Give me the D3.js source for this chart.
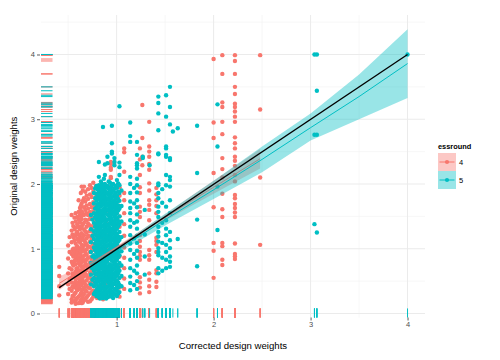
<!DOCTYPE html>
<html><head><meta charset="utf-8">
<script src="https://cdn.jsdelivr.net/npm/d3@7"></script>
<style>body{margin:0;background:#fff}svg{display:block}</style>
</head><body>
<svg id="chart" width="500" height="360"></svg>
<script>
// ---------- data ----------
const rounds = ["4", "5"];
const roundColors = ["#F8766D", "#00BFC4"];
const xTicks = [1, 2, 3, 4];
const yTicks = [0, 1, 2, 3, 4];
const xMinor = [0.5, 1.5, 2.5, 3.5];
const yMinor = [0.5, 1.5, 2.5, 3.5, 4.5];

// round 4: [corrected weight, [original weights...]]
const round4Columns = [
  [0.408, [0.28, 0.42, 0.58, 0.72]],
  [0.50, [0.30, 0.45, 0.62, 0.85, 1.05]],
  [0.515, [0.38, 0.52, 0.70, 0.95, 1.18]],
  [0.536, [0.17, 0.22, 0.35, 0.48, 0.55, 0.68, 0.80, 0.92, 1.10, 1.28, 1.52]],
  [0.545, [0.27, 0.42, 0.61, 0.77, 0.98, 1.22, 1.40]],
  [0.553, [0.26, 0.40, 0.58, 0.74, 0.88, 1.00, 1.18, 1.35]],
  [0.565, [0.19, 0.30, 0.47, 0.62, 0.81, 0.93, 1.13, 1.30, 1.48]],
  [0.577, [0.15, 0.20, 0.32, 0.44, 0.52, 0.64, 0.76, 0.86, 0.97, 1.08, 1.20, 1.42, 1.55]],
  [0.585, [0.23, 0.39, 0.56, 0.69, 0.90, 1.02, 1.24, 1.33]],
  [0.594, [0.24, 0.36, 0.47, 0.60, 0.70, 0.82, 0.94, 1.04, 1.15, 1.26, 1.38, 1.49]],
  [0.608, [0.16, 0.26, 0.42, 0.54, 0.66, 0.78, 0.87, 0.99, 1.12, 1.22, 1.34, 1.45, 1.57, 1.75]],
  [0.622, [0.18, 0.28, 0.38, 0.50, 0.58, 0.66, 0.74, 0.83, 0.92, 1.01, 1.10, 1.19, 1.30, 1.41, 1.52, 1.63]],
  [0.631, [0.20, 0.31, 0.46, 0.60, 0.77, 0.94, 1.16, 1.32, 1.50, 1.66, 1.86]],
  [0.639, [0.16, 0.22, 0.33, 0.44, 0.54, 0.63, 0.72, 0.80, 0.88, 0.97, 1.06, 1.14, 1.24, 1.35, 1.46, 1.58, 1.70, 1.96]],
  [0.651, [0.17, 0.26, 0.37, 0.51, 0.60, 0.69, 0.85, 1.01, 1.18, 1.37, 1.55, 1.74, 1.90]],
  [0.663, [0.20, 0.30, 0.40, 0.48, 0.57, 0.65, 0.73, 0.81, 0.89, 0.97, 1.05, 1.13, 1.21, 1.30, 1.40, 1.52, 1.64, 1.78, 1.96]],
  [0.677, [0.22, 0.36, 0.45, 0.61, 0.78, 0.94, 1.10, 1.27, 1.45, 1.60, 1.73, 1.88]],
  [0.691, [0.25, 0.34, 0.43, 0.51, 0.59, 0.67, 0.75, 0.83, 0.91, 0.99, 1.07, 1.16, 1.25, 1.34, 1.44, 1.55, 1.67, 1.82]],
  [0.705, [0.18, 0.28, 0.40, 0.55, 0.71, 0.86, 1.03, 1.20, 1.39, 1.52, 1.62, 1.77, 1.92]],
  [0.725, [0.19, 0.31, 0.39, 0.47, 0.55, 0.63, 0.71, 0.79, 0.87, 0.95, 1.03, 1.11, 1.19, 1.27, 1.36, 1.46, 1.57, 1.69, 1.84, 1.98]],
  [0.742, [0.22, 0.33, 0.50, 0.66, 0.84, 1.00, 1.14, 1.31, 1.50, 1.64, 1.80, 1.94]],
  [0.759, [0.26, 0.35, 0.44, 0.53, 0.62, 0.71, 0.80, 0.89, 0.98, 1.07, 1.16, 1.25, 1.35, 1.46, 1.58, 1.72, 1.88, 2.02]],
  [0.772, [0.28, 0.48, 0.64, 0.86, 1.04, 1.22, 1.40, 1.66]],
  [0.787, [0.30, 0.42, 0.55, 0.68, 0.82, 0.96, 1.12, 1.28, 1.45, 1.62, 1.80, 1.97]],
  [0.798, [0.24, 0.38, 0.60, 0.78, 1.06, 1.38]],
  [0.81, [0.36, 0.52, 0.70, 0.90, 1.10, 1.32, 1.55, 1.78]],
  [0.86, [0.22, 0.44, 0.74, 1.15, 1.48]],
  [0.89, [0.28, 0.47, 0.66, 0.85, 1.02, 1.21, 1.39, 1.58, 1.76]],
  [0.94, [1.96, 2.09, 2.11, 2.22, 2.25, 2.31, 2.34]],
  [0.96, [0.31, 0.58, 0.92, 1.30, 1.70]],
  [1.03, [0.26, 0.40, 0.55, 0.72, 0.88, 1.02, 1.18, 1.34, 1.50, 1.66, 1.82, 1.95]],
  [1.078, [0.38, 0.54, 0.70, 0.86, 1.02, 1.20, 1.38, 1.55, 1.75, 1.86, 2.19, 2.49, 2.55]],
  [1.24, [0.31, 0.40, 0.48, 0.56, 0.83, 0.89, 0.95, 1.03, 1.12, 1.21, 1.49, 1.57, 1.65, 1.86, 1.95, 2.14, 2.38, 2.55]],
  [1.265, [2.29, 2.42, 2.71, 3.22]],
  [1.336, [0.33, 0.42, 0.52, 0.62, 0.83, 0.90, 0.98, 1.44, 1.60, 1.68, 1.75, 1.90, 2.01, 2.22, 2.31, 2.42, 2.50, 2.58, 2.96]],
  [1.41, [0.41, 0.49, 0.62, 0.67, 0.95, 1.06, 1.12, 1.17, 1.55, 1.66, 1.75, 1.84, 1.94]],
  [2.0, [0.55, 0.97, 1.09, 1.64, 2.17, 2.71, 2.95, 3.93]],
  [2.09, [0.75, 0.83, 1.04, 1.09, 1.49, 1.61, 1.85, 2.10, 2.23, 2.40, 2.77, 2.96, 3.19, 3.26, 3.70, 3.99]],
  [2.22, [0.84, 0.88, 0.92, 1.08, 1.49, 1.56, 1.63, 1.69, 1.78, 1.83, 2.04, 2.14, 2.28, 2.36, 2.42, 2.55, 2.63, 2.72, 2.96, 3.04, 3.12, 3.19, 3.24, 3.39, 3.50, 3.70, 3.90, 3.99]],
  [2.48, [1.06, 2.10, 3.15, 3.99]]
];

// round 5
const round5Columns = [
  [0.735, [0.45, 0.60, 0.78, 0.95, 1.10, 1.30, 1.52]],
  [0.750, [0.52, 0.70, 0.88, 1.20, 1.45]],
  [0.766, [0.30, 0.42, 0.55, 0.66, 0.79, 0.90, 1.02, 1.15, 1.27, 1.40, 1.55, 1.70, 1.86]],
  [0.778, [0.33, 0.48, 0.61, 0.74, 0.85, 0.98, 1.08, 1.22, 1.34, 1.49, 1.62, 1.78, 1.93]],
  [0.792, [0.27, 0.36, 0.45, 0.53, 0.62, 0.70, 0.78, 0.87, 0.95, 1.03, 1.12, 1.20, 1.29, 1.37, 1.46, 1.55, 1.64, 1.74, 1.85, 1.97]],
  [0.805, [0.29, 0.39, 0.50, 0.60, 0.68, 0.77, 0.92, 1.00, 1.09, 1.17, 1.26, 1.34, 1.42, 1.50, 1.59, 1.68, 1.82, 1.92]],
  [0.817, [0.25, 0.33, 0.41, 0.49, 0.57, 0.65, 0.73, 0.81, 0.89, 0.97, 1.05, 1.13, 1.21, 1.29, 1.37, 1.45, 1.53, 1.61, 1.70, 1.79, 1.88, 1.98, 2.11, 2.34]],
  [0.828, [0.23, 0.35, 0.43, 0.55, 0.63, 0.71, 0.83, 0.95, 1.07, 1.19, 1.31, 1.43, 1.55, 1.67, 1.76, 1.86, 1.95]],
  [0.838, [0.29, 0.37, 0.45, 0.53, 0.61, 0.69, 0.77, 0.85, 0.93, 1.01, 1.09, 1.17, 1.25, 1.33, 1.41, 1.49, 1.57, 1.65, 1.74, 1.83, 1.93, 2.04]],
  [0.848, [0.27, 0.39, 0.51, 0.59, 0.75, 0.87, 0.99, 1.10, 1.22, 1.35, 1.46, 1.58, 1.71, 1.80, 1.90, 2.00]],
  [0.859, [0.24, 0.32, 0.40, 0.48, 0.56, 0.64, 0.72, 0.80, 0.88, 0.96, 1.04, 1.12, 1.20, 1.28, 1.36, 1.44, 1.52, 1.60, 1.68, 1.77, 1.86, 1.96, 2.88]],
  [0.869, [0.30, 0.38, 0.46, 0.61, 0.69, 0.85, 0.94, 1.02, 1.14, 1.26, 1.34, 1.50, 1.58, 1.73, 1.84, 1.92, 2.08]],
  [0.879, [0.27, 0.35, 0.43, 0.51, 0.59, 0.67, 0.75, 0.83, 0.91, 0.99, 1.07, 1.15, 1.23, 1.31, 1.39, 1.47, 1.55, 1.63, 1.71, 1.80, 1.90, 2.00, 2.14, 2.30]],
  [0.892, [0.23, 0.31, 0.39, 0.54, 0.63, 0.70, 0.79, 0.95, 1.03, 1.11, 1.19, 1.27, 1.35, 1.43, 1.59, 1.67, 1.75, 1.85, 1.95]],
  [0.905, [0.25, 0.33, 0.41, 0.49, 0.57, 0.65, 0.73, 0.81, 0.89, 0.97, 1.05, 1.13, 1.21, 1.29, 1.37, 1.45, 1.53, 1.61, 1.69, 1.78, 1.87, 1.97, 2.32, 2.42]],
  [0.918, [0.26, 0.34, 0.47, 0.55, 0.62, 0.71, 0.87, 0.95, 1.06, 1.18, 1.27, 1.35, 1.51, 1.59, 1.67, 1.76, 1.84, 1.93, 2.04]],
  [0.931, [0.28, 0.36, 0.44, 0.52, 0.60, 0.68, 0.76, 0.84, 0.92, 1.00, 1.08, 1.16, 1.24, 1.32, 1.40, 1.48, 1.56, 1.64, 1.72, 1.81, 1.91, 2.02]],
  [0.941, [0.31, 0.39, 0.48, 0.56, 0.64, 0.72, 0.86, 0.94, 1.03, 1.12, 1.20, 1.28, 1.44, 1.52, 1.60, 1.68, 1.77, 1.86, 1.95]],
  [0.951, [0.26, 0.34, 0.42, 0.50, 0.58, 0.66, 0.74, 0.82, 0.90, 0.98, 1.06, 1.14, 1.22, 1.30, 1.38, 1.46, 1.54, 1.62, 1.70, 1.79, 1.88, 1.98, 2.47, 2.50, 2.63, 2.90]],
  [0.964, [0.24, 0.32, 0.45, 0.53, 0.61, 0.69, 0.80, 0.88, 0.96, 1.04, 1.16, 1.24, 1.32, 1.40, 1.56, 1.64, 1.73, 1.81, 1.90, 2.00]],
  [0.977, [0.30, 0.38, 0.46, 0.54, 0.62, 0.70, 0.78, 0.86, 0.94, 1.02, 1.10, 1.18, 1.26, 1.34, 1.42, 1.50, 1.58, 1.66, 1.74, 1.83, 1.93, 2.29, 2.34, 2.40]],
  [0.990, [0.29, 0.37, 0.49, 0.57, 0.64, 0.73, 0.81, 0.89, 0.97, 1.05, 1.13, 1.21, 1.29, 1.37, 1.45, 1.53, 1.61, 1.69, 1.78, 1.87, 1.97]],
  [1.003, [0.27, 0.35, 0.43, 0.51, 0.59, 0.67, 0.75, 0.83, 0.91, 0.99, 1.07, 1.15, 1.23, 1.31, 1.39, 1.47, 1.55, 1.63, 1.72, 1.82, 1.94, 2.06]],
  [1.016, [0.31, 0.40, 0.48, 0.62, 0.71, 0.87, 0.95, 1.11, 1.19, 1.35, 1.43, 1.59, 1.67, 1.77, 1.88, 2.01]],
  [1.029, [0.33, 0.44, 0.55, 0.66, 0.78, 0.90, 1.02, 1.14, 1.26, 1.38, 1.50, 1.62, 1.74, 1.86, 1.98, 2.14, 2.26, 2.33, 3.20]],
  [1.05, [0.42, 0.58, 0.74, 0.96, 1.18, 1.42, 1.66, 1.90]],
  [1.14, [0.36, 0.47, 0.57, 0.70, 0.83, 0.98, 1.08, 1.21, 1.34, 1.44, 1.55, 1.63, 1.73, 1.86, 2.00, 2.11, 2.65, 2.74, 2.95]],
  [1.18, [0.44, 0.66, 0.92, 1.16, 1.40, 1.70, 1.94]],
  [1.21, [0.38, 0.50, 0.62, 0.74, 0.86, 0.97, 1.09, 1.20, 1.31, 1.42, 1.53, 1.64, 1.75, 1.87, 1.98, 2.08, 2.24, 2.29, 2.32, 2.45, 2.65]],
  [1.27, [2.40, 2.42]],
  [1.29, [0.60, 0.88, 1.22, 1.60]],
  [1.34, [2.29]],
  [1.43, [0.62, 0.70, 0.90, 0.95, 1.01, 1.11, 1.19, 1.26, 1.34, 1.49, 1.57, 1.65, 1.78, 1.86, 1.98, 2.01, 2.46, 2.47, 2.83, 3.09, 3.25, 3.35]],
  [1.47, [0.66, 0.86, 1.09, 1.40, 1.71, 1.92]],
  [1.51, [0.70, 0.83, 0.95, 1.06, 1.21, 1.31, 1.44, 1.65, 1.98, 2.14, 2.42, 2.45, 2.55, 2.58, 3.04, 3.37]],
  [1.55, [0.72, 0.80, 0.88, 1.01, 1.13, 1.26, 1.55, 1.75, 1.96, 2.06, 2.11, 2.37, 2.40, 2.92, 3.19, 3.50]],
  [1.58, [2.81]],
  [1.63, [1.15, 2.86]],
  [1.83, [0.73, 1.45, 2.17, 2.90]],
  [2.04, [1.29, 1.96, 2.58, 3.23]],
  [3.04, [1.38, 2.76, 4.00]],
  [3.065, [1.25, 2.76, 3.44, 4.00]],
  [4.0, [4.00]]
];

// smooth fits
const round4FitX  = [0.408, 0.6, 0.8, 1.0, 1.25, 1.5, 1.75, 2.0, 2.25, 2.48];
const round4Fit   = [0.465, 0.645, 0.83, 1.02, 1.25, 1.48, 1.72, 1.95, 2.18, 2.39];
const round4Lo    = [0.36, 0.595, 0.805, 1.00, 1.22, 1.43, 1.645, 1.85, 2.055, 2.24];
const round4Hi    = [0.57, 0.695, 0.855, 1.04, 1.28, 1.53, 1.795, 2.05, 2.305, 2.54];

const round5FitX  = [0.72, 1.0, 1.25, 1.5, 2.0, 2.5, 3.0, 3.5, 4.0];
const round5Fit   = [0.71, 0.97, 1.21, 1.45, 1.91, 2.38, 2.87, 3.35, 3.86];
const round5Lo    = [0.66, 0.93, 1.14, 1.36, 1.77, 2.18, 2.67, 3.00, 3.33];
const round5Hi    = [0.76, 1.01, 1.28, 1.54, 2.05, 2.58, 3.09, 3.69, 4.39];

const overallFitX = [0.408, 4.0];
const overallFit  = [0.40, 4.0];

// ---------- drawing ----------
const svg = d3.select("#chart");
const P = {l: 41, r: 425, t: 15, b: 317.5};
const x = d3.scaleLinear().domain([0.22, 4.18]).range([P.l, P.r]);
const y = d3.scaleLinear().domain([-0.062, 4.61]).range([P.b, P.t]);
const color = d3.scaleOrdinal().domain(rounds).range(roundColors);

const flat = (cols, r) => cols.flatMap(([cx, ys]) => ys.map(v => ({x: cx, y: v, r})));
const pts4 = flat(round4Columns, "4");
const pts5 = flat(round5Columns, "5");
const allPts = pts4.concat(pts5);

// grid
const g = svg.append("g");
g.selectAll(".gxm").data(xMinor).join("line")
  .attr("x1", d => x(d)).attr("x2", d => x(d)).attr("y1", P.t).attr("y2", P.b)
  .attr("stroke", "#f2f2f2").attr("stroke-width", 0.6);
g.selectAll(".gym").data(yMinor).join("line")
  .attr("y1", d => y(d)).attr("y2", d => y(d)).attr("x1", P.l).attr("x2", P.r)
  .attr("stroke", "#f2f2f2").attr("stroke-width", 0.6);
g.selectAll(".gx").data(xTicks).join("line")
  .attr("x1", d => x(d)).attr("x2", d => x(d)).attr("y1", P.t).attr("y2", P.b)
  .attr("stroke", "#ebebeb").attr("stroke-width", 1);
g.selectAll(".gy").data(yTicks).join("line")
  .attr("y1", d => y(d)).attr("y2", d => y(d)).attr("x1", P.l).attr("x2", P.r)
  .attr("stroke", "#ebebeb").attr("stroke-width", 1);

// points
svg.append("g").selectAll("circle").data(allPts).join("circle")
  .attr("cx", d => x(d.x)).attr("cy", d => y(d.y)).attr("r", 2.2)
  .attr("fill", d => color(d.r));

// rugs
const rugLenX = (P.r - P.l) * 0.03, rugLenY = (P.b - P.t) * 0.03;
const rug = svg.append("g").attr("stroke-width", 1);
rug.selectAll(".rl").data(allPts).join("line")
  .attr("x1", P.l).attr("x2", P.l + rugLenX)
  .attr("y1", d => y(d.y)).attr("y2", d => y(d.y))
  .attr("stroke", d => color(d.r));
rug.selectAll(".rb").data(allPts).join("line")
  .attr("y1", P.b).attr("y2", P.b - rugLenY)
  .attr("x1", d => x(d.x)).attr("x2", d => x(d.x))
  .attr("stroke", d => color(d.r));

// smooths
function smooth(xs, fit, lo, hi, col) {
  const rows = xs.map((v, i) => ({x: v, f: fit[i], lo: lo ? lo[i] : null, hi: hi ? hi[i] : null}));
  if (lo) {
    svg.append("path").datum(rows)
      .attr("d", d3.area().x(d => x(d.x)).y0(d => y(d.lo)).y1(d => y(d.hi)))
      .attr("fill", col).attr("fill-opacity", 0.4);
  }
  svg.append("path").datum(rows)
    .attr("d", d3.line().x(d => x(d.x)).y(d => y(d.f)))
    .attr("fill", "none").attr("stroke", col).attr("stroke-width", lo ? 1 : 1.3);
}
smooth(round4FitX, round4Fit, round4Lo, round4Hi, roundColors[0]);
smooth(round5FitX, round5Fit, round5Lo, round5Hi, roundColors[1]);
smooth(overallFitX, overallFit, null, null, "#000");

// axes
const ax = svg.append("g").attr("transform", `translate(0,${P.b})`)
  .call(d3.axisBottom(x).tickValues(xTicks).tickFormat(d3.format("d")).tickSize(3).tickPadding(1.5));
const ay = svg.append("g").attr("transform", `translate(${P.l - 1},0)`)
  .call(d3.axisLeft(y).tickValues(yTicks).tickFormat(d3.format("d")).tickSize(3).tickPadding(2));
[ax, ay].forEach(a => {
  a.select(".domain").remove();
  a.selectAll(".tick line").attr("stroke", "#333").attr("stroke-width", 0.8);
  a.selectAll(".tick text").attr("fill", "#4d4d4d")
    .style("font-family", "Liberation Sans, Arial, sans-serif").style("font-size", "7.5px");
});

// axis titles
svg.append("text").attr("x", (P.l + P.r) / 2).attr("y", 349)
  .attr("text-anchor", "middle").attr("fill", "#000")
  .style("font-family", "Liberation Sans, Arial, sans-serif").style("font-size", "9.6px")
  .text("Corrected design weights");
svg.append("text").attr("transform", `translate(17,${(P.t + P.b) / 2}) rotate(-90)`)
  .attr("text-anchor", "middle").attr("fill", "#000")
  .style("font-family", "Liberation Sans, Arial, sans-serif").style("font-size", "9.6px")
  .text("Original design weights");

// legend
const lg = svg.append("g").attr("transform", "translate(438,0)");
lg.append("text").attr("x", 0).attr("y", 148.5)
  .style("font-family", "Liberation Sans, Arial, sans-serif").style("font-size", "7.4px")
  .style("font-weight", "bold").attr("fill", "#000").text("essround");
const keys = lg.selectAll(".key").data(rounds).join("g")
  .attr("transform", (d, i) => `translate(0,${153 + i * 18})`);
keys.append("rect").attr("width", 18).attr("height", 18)
  .attr("fill", d => color(d)).attr("fill-opacity", 0.4);
keys.append("line").attr("x1", 1.5).attr("x2", 16.5).attr("y1", 9).attr("y2", 9)
  .attr("stroke", d => color(d)).attr("stroke-width", 1);
keys.append("circle").attr("cx", 9).attr("cy", 9).attr("r", 2.1).attr("fill", d => color(d));
keys.append("text").attr("x", 21).attr("y", 12)
  .style("font-family", "Liberation Sans, Arial, sans-serif").style("font-size", "7.5px")
  .attr("fill", "#000").text(d => d);
</script>
</body></html>
